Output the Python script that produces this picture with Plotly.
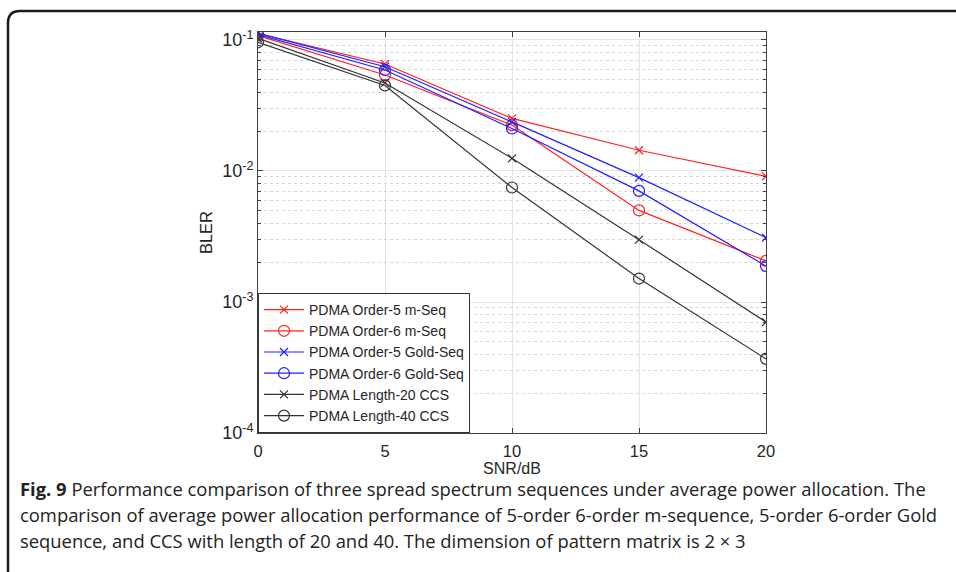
import plotly.graph_objects as go

snr = [0, 5, 10, 15, 20]
m5 = [0.112, 0.0656, 0.0252, 0.0144, 0.0091]
m6 = [0.108, 0.054, 0.0224, 0.0050, 0.00206]
g5 = [0.113, 0.0625, 0.0237, 0.0089, 0.0031]
g6 = [0.110, 0.059, 0.0211, 0.00705, 0.00188]
c20 = [0.103, 0.047, 0.0125, 0.00299, 0.000703]
c40 = [0.096, 0.045, 0.00748, 0.00151, 0.000368]

names = ["PDMA Order-5 m-Seq", "PDMA Order-6 m-Seq", "PDMA Order-5 Gold-Seq",
         "PDMA Order-6 Gold-Seq", "PDMA Length-20 CCS", "PDMA Length-40 CCS"]
series = [m5, m6, g5, g6, c20, c40]
colors = ["#ff2020", "#ff2020", "#2020ff", "#2020ff", "#333333", "#333333"]
symbols = ["x-thin-open", "circle-open", "x-thin-open", "circle-open", "x-thin-open", "circle-open"]
sizes = [8, 11, 8, 11, 8, 11]

ytick_vals = [1e-4, 1e-3, 1e-2, 1e-1]
ytick_text = ["10<sup>-4</sup>", "10<sup>-3</sup>", "10<sup>-2</sup>", "10<sup>-1</sup>"]
minor_vals = [m * d for d in [1e-4, 1e-3, 1e-2, 1e-1] for m in range(2, 10) if m * d < 0.115]

W, H = 956, 572
L, R, T, B = 258, 766, 32, 433

def px(x):
    return (x - L) / (R - L)

def py(y):
    return (B - y) / (B - T)

fig = go.Figure()
for n, s, c, sym, sz in zip(names, series, colors, symbols, sizes):
    fig.add_trace(go.Scatter(
        x=snr, y=s, name=n, mode="lines+markers",
        line=dict(color=c, width=1.2),
        marker=dict(symbol=sym, size=sz, color=c, line=dict(color=c, width=1.2)),
    ))

font_main = "Liberation Sans, Arial, sans-serif"

fig.update_layout(
    width=W, height=H,
    margin=dict(l=L, r=W - R, t=T, b=H - B),
    paper_bgcolor="white", plot_bgcolor="white",
    font=dict(family=font_main, color="#262626", size=13),
    showlegend=True,
    legend=dict(
        x=0, y=0, xanchor="left", yanchor="bottom",
        bgcolor="white", bordercolor="#333333", borderwidth=1,
        font=dict(size=14, family=font_main, color="#262626"),
        tracegroupgap=0, itemwidth=40,
    ),
    xaxis=dict(
        range=[0, 20], tickvals=[0, 5, 10, 15, 20],
        showgrid=True, gridcolor="#e3e3e3", gridwidth=1,
        showline=True, linecolor="#404040", linewidth=1, mirror="ticks",
        ticks="inside", ticklen=5, tickcolor="#404040",
        zeroline=False, ticklabelstandoff=3,
        tickfont=dict(size=16.5),
        title=dict(text="SNR/dB", font=dict(size=16), standoff=2),
    ),
    yaxis=dict(
        type="log", range=[-4, -0.939],
        tickvals=ytick_vals, ticktext=ytick_text,
        showgrid=True, gridcolor="#e3e3e3", gridwidth=1,
        showline=True, linecolor="#404040", linewidth=1, mirror="ticks",
        ticks="inside", ticklen=5, tickcolor="#404040",
        zeroline=False,
        tickfont=dict(size=18),
        title=dict(text="BLER", font=dict(size=16.5), standoff=5),
        minor=dict(tickvals=minor_vals, showgrid=True, gridcolor="#d6d6d6",
                   griddash="dot", gridwidth=1, ticks="inside", ticklen=3,
                   tickcolor="#404040"),
    ),
)

# Figure frame with rounded top-left corner
path = (f"M {px(8)},{py(575)} L {px(8)},{py(23)} "
        f"Q {px(8)},{py(11)} {px(20)},{py(11)} L {px(960)},{py(11)}")
fig.add_shape(type="path", xref="paper", yref="paper", path=path,
              line=dict(color="#1a1a1a", width=2.5), layer="above")

cap_font = "Open Sans, sans-serif"
cap_lines = [
    "<b>Fig. 9</b> Performance comparison of three spread spectrum sequences under average power allocation. The",
    "comparison of average power allocation performance of 5-order 6-order m-sequence, 5-order 6-order Gold",
    "sequence, and CCS with length of 20 and 40. The dimension of pattern matrix is 2 × 3",
]
cap_y = [488, 514, 540]
for t, yy in zip(cap_lines, cap_y):
    fig.add_annotation(text=t, xref="paper", yref="paper", x=px(18), y=py(yy),
                       xanchor="left", yanchor="middle", showarrow=False,
                       font=dict(family=cap_font, size=18.4, color="#222222"))

fig.write_html("out.html")
